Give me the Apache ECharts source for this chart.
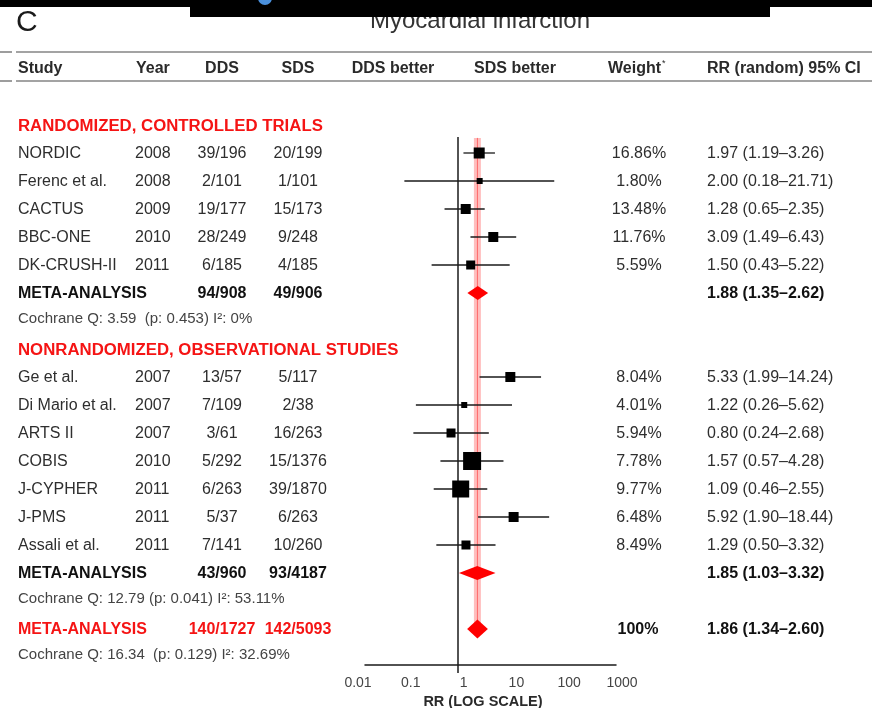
<!DOCTYPE html>
<html>
<head>
<meta charset="utf-8">
<script src="https://cdn.jsdelivr.net/npm/echarts@6/dist/echarts.min.js"></script>
<style>
  html, body { margin: 0; padding: 0; background: #fff; }
  #chart { width: 872px; height: 708px; }
</style>
</head>
<body>
<div id="chart"></div>
<script>
// ---- Study-level data: myocardial infarction, DDS vs SDS ----
const studies   = ['NORDIC', 'Ferenc et al.', 'CACTUS', 'BBC-ONE', 'DK-CRUSH-II',
                   'Ge et al.', 'Di Mario et al.', 'ARTS II', 'COBIS', 'J-CYPHER', 'J-PMS', 'Assali et al.'];
const years     = [2008, 2008, 2009, 2010, 2011, 2007, 2007, 2007, 2010, 2011, 2011, 2011];
const ddsEvents = ['39/196', '2/101', '19/177', '28/249', '6/185',
                   '13/57', '7/109', '3/61', '5/292', '6/263', '5/37', '7/141'];
const sdsEvents = ['20/199', '1/101', '15/173', '9/248', '4/185',
                   '5/117', '2/38', '16/263', '15/1376', '39/1870', '6/263', '10/260'];
const weights   = [16.86, 1.80, 13.48, 11.76, 5.59, 8.04, 4.01, 5.94, 7.78, 9.77, 6.48, 8.49];
const rr        = [1.97, 2.00, 1.28, 3.09, 1.50, 5.33, 1.22, 0.80, 1.57, 1.09, 5.92, 1.29];
const rrLow     = [1.19, 0.18, 0.65, 1.49, 0.43, 1.99, 0.26, 0.24, 0.57, 0.46, 1.90, 0.50];
const rrHigh    = [3.26, 21.71, 2.35, 6.43, 5.22, 14.24, 5.62, 2.68, 4.28, 2.55, 18.44, 3.32];

// ---- Pooled estimates (RCT subgroup, observational subgroup, overall) ----
const pooledDds    = ['94/908', '43/960', '140/1727'];
const pooledSds    = ['49/906', '93/4187', '142/5093'];
const pooledRR     = [1.88, 1.85, 1.86];
const pooledLow    = [1.35, 1.03, 1.34];
const pooledHigh   = [2.62, 3.32, 2.60];
const pooledWeight = ['', '', '100%'];
const heterogeneity = ['Cochrane Q: 3.59  (p: 0.453) I\u00b2: 0%',
                       'Cochrane Q: 12.79 (p: 0.041) I\u00b2: 53.11%',
                       'Cochrane Q: 16.34  (p: 0.129) I\u00b2: 32.69%'];

const sectionTitles = ['RANDOMIZED, CONTROLLED TRIALS', 'NONRANDOMIZED, OBSERVATIONAL STUDIES'];
const headers = ['Study', 'Year', 'DDS', 'SDS', 'DDS better', 'SDS better', 'Weight', 'RR (random) 95% CI'];
const tickLabels = ['0.01', '0.1', '1', '10', '100', '1000'];

// ---- Layout: row slots (row units below the first section heading) ----
const sectionRows = [0, 8];
const studyRows   = [1, 2, 3, 4, 5, 9, 10, 11, 12, 13, 14, 15];
const pooledRows  = [6, 16, 18];
const hetRows     = [6.9, 16.9, 18.9];
const boxSizes    = [11, 6, 10, 10, 9, 10, 6, 9, 18, 17, 10, 9];
const diamondHeights = [14, 14, 19];

const FONT = '"Liberation Sans", Arial, Helvetica, sans-serif';
const TEXT = '#2e2e2e';
const RED = '#f51414';
const ROW_MAX = 19.2857;
const overall = pooledRR[2];

const chart = echarts.init(document.getElementById('chart'), null, { renderer: 'canvas' });

const fmt2 = v => v.toFixed(2);
const ciText = (e, l, h) => fmt2(e) + ' (' + fmt2(l) + '\u2013' + fmt2(h) + ')';

chart.setOption({
  animation: false,
  backgroundColor: '#fff',
  grid: [
    { left: 365, width: 251, top: 125, bottom: 43, outerBoundsMode: 'none' },
    { left: 358, width: 264, top: 125, bottom: 43, outerBoundsMode: 'none' }
  ],
  xAxis: [
    { // plotting scale for the estimates
      type: 'log', logBase: 10, gridIndex: 0, min: 0.0511, max: 156.4, position: 'bottom',
      axisLine: { show: true, onZero: false, lineStyle: { color: '#1a1a1a', width: 1.5 } },
      axisTick: { show: false }, axisLabel: { show: false }, splitLine: { show: false }
    },
    { // printed decade labels
      type: 'log', logBase: 10, gridIndex: 1, min: 0.01, max: 1000, position: 'bottom',
      axisLine: { show: false, onZero: false }, axisTick: { show: false }, splitLine: { show: false },
      axisLabel: {
        show: true, margin: 11, color: '#444', fontSize: 14, fontFamily: FONT,
        formatter: v => tickLabels[Math.round(Math.log10(v)) + 2]
      },
      name: 'RR (LOG SCALE)', nameLocation: 'middle', nameGap: 27,
      nameTextStyle: { color: '#2a2a2a', fontSize: 14.5, fontWeight: 'bold', fontFamily: FONT, padding: [0, 14, 0, 0] }
    }
  ],
  yAxis: [
    { type: 'value', gridIndex: 0, inverse: true, min: 0, max: ROW_MAX, show: false },
    { type: 'value', gridIndex: 1, inverse: true, min: 0, max: ROW_MAX, show: false }
  ],
  series: [
    { // line of no effect
      type: 'line', xAxisIndex: 0, yAxisIndex: 0, clip: false, silent: true, z: 1,
      symbol: 'none', data: [[1, 0.43], [1, 19.57]],
      lineStyle: { color: '#1a1a1a', width: 1.5 }
    },
    { // overall pooled estimate band
      type: 'line', xAxisIndex: 0, yAxisIndex: 0, clip: false, silent: true, z: 2,
      symbol: 'none', data: [[overall, 0.46], [overall, pooledRows[2]]],
      lineStyle: { color: 'rgba(255,40,40,0.3)', width: 7 }
    },
    {
      type: 'line', xAxisIndex: 0, yAxisIndex: 0, clip: false, silent: true, z: 2,
      symbol: 'none', data: [[overall, 0.46], [overall, pooledRows[2]]],
      lineStyle: { color: 'rgba(255,0,0,0.45)', width: 1 }
    },
    { // individual studies: CI whisker + weighted box
      type: 'custom', xAxisIndex: 0, yAxisIndex: 0, z: 3, silent: true,
      data: studies.map((s, i) => [rr[i], rrLow[i], rrHigh[i], studyRows[i]]),
      encode: { x: [0, 1, 2], y: 3 },
      renderItem(params, api) {
        const row = api.value(3);
        const mid = api.coord([api.value(0), row]);
        const lo = api.coord([api.value(1), row]);
        const hi = api.coord([api.value(2), row]);
        const s = boxSizes[params.dataIndex];
        return {
          type: 'group',
          children: [
            { type: 'line', shape: { x1: lo[0], y1: lo[1], x2: hi[0], y2: hi[1] },
              style: { stroke: '#1a1a1a', lineWidth: 1.3 } },
            { type: 'rect', shape: { x: mid[0] - s / 2, y: mid[1] - s / 2, width: s, height: s },
              style: { fill: '#000' } }
          ]
        };
      }
    },
    { // pooled diamonds
      type: 'custom', xAxisIndex: 0, yAxisIndex: 0, z: 4, silent: true,
      data: pooledRR.map((v, i) => [v, pooledLow[i], pooledHigh[i], pooledRows[i]]),
      encode: { x: [0, 1, 2], y: 3 },
      renderItem(params, api) {
        const row = api.value(3);
        const mid = api.coord([api.value(0), row]);
        const lo = api.coord([api.value(1), row]);
        const hi = api.coord([api.value(2), row]);
        const h = diamondHeights[params.dataIndex] / 2;
        return {
          type: 'polygon',
          shape: { points: [[lo[0], mid[1]], [mid[0], mid[1] - h], [hi[0], mid[1]], [mid[0], mid[1] + h]] },
          style: { fill: '#ff0000' }
        };
      }
    }
  ]
});

// ---- Table text, aligned to the plot rows ----
const rowY = v => chart.convertToPixel({ yAxisIndex: 0 }, v) + 1;
const txt = (text, x, y, opt) => ({
  type: 'text', x: x, y: y, silent: true, z: 10,
  style: Object.assign({
    text: text, fill: TEXT, fontSize: 16, fontFamily: FONT,
    align: 'left', verticalAlign: 'middle'
  }, opt || {})
});

const col = { study: 18, year: 135, dds: 222, sds: 298, weight: 639, ci: 707 };
const g = [];

// title area
g.push(txt('Myocardial infarction', 480, 21, { fontSize: 24, fill: '#333', align: 'center' }));
g.push({ type: 'rect', z: 20, silent: true, shape: { x: 0, y: 0, width: 872, height: 7 }, style: { fill: '#000' } });
g.push({ type: 'rect', z: 20, silent: true, shape: { x: 190, y: 0, width: 580, height: 17 }, style: { fill: '#000' } });
g.push({ type: 'circle', z: 21, silent: true, shape: { cx: 265, cy: -2, r: 7 }, style: { fill: '#4a90dc' } });
g.push(txt('C', 16, 23, { fontSize: 30, fill: '#1a1a1a' }));

// header rules
[52, 81].forEach(y => {
  g.push({ type: 'line', silent: true, shape: { x1: 0, y1: y, x2: 12, y2: y }, style: { stroke: '#858585', lineWidth: 1.6 } });
  g.push({ type: 'line', silent: true, shape: { x1: 16, y1: y, x2: 872, y2: y }, style: { stroke: '#858585', lineWidth: 1.6 } });
});

// column headers
const hb = { fontWeight: 'bold', fill: '#2a2a2a' };
const HY = 69;
g.push(txt(headers[0], col.study, HY, hb));
g.push(txt(headers[1], 136, HY, hb));
g.push(txt(headers[2], col.dds, HY, Object.assign({ align: 'center' }, hb)));
g.push(txt(headers[3], col.sds, HY, Object.assign({ align: 'center' }, hb)));
g.push(txt(headers[4], 393, HY, Object.assign({ align: 'center' }, hb)));
g.push(txt(headers[5], 515, HY, Object.assign({ align: 'center' }, hb)));
g.push(txt(headers[6], 661, HY, Object.assign({ align: 'right' }, hb)));
g.push(txt('*', 662, HY - 5, { fontSize: 9, fill: '#2a2a2a' }));
g.push(txt(headers[7], col.ci, HY, hb));

// section headings
sectionTitles.forEach((t, i) => {
  g.push(txt(t, col.study, rowY(sectionRows[i]), { fontWeight: 'bold', fill: RED, fontSize: 16.8 }));
});

// study rows
studies.forEach((s, i) => {
  const y = rowY(studyRows[i]);
  g.push(txt(s, col.study, y));
  g.push(txt(String(years[i]), col.year, y));
  g.push(txt(ddsEvents[i], col.dds, y, { align: 'center' }));
  g.push(txt(sdsEvents[i], col.sds, y, { align: 'center' }));
  g.push(txt(fmt2(weights[i]) + '%', col.weight, y, { align: 'center' }));
  g.push(txt(ciText(rr[i], rrLow[i], rrHigh[i]), col.ci, y));
});

// pooled rows and heterogeneity
pooledRR.forEach((v, i) => {
  const y = rowY(pooledRows[i]);
  const isOverall = i === 2;
  const c = isOverall ? RED : '#111';
  g.push(txt('META-ANALYSIS', col.study, y, { fontWeight: 'bold', fill: c, fontSize: 16 }));
  g.push(txt(pooledDds[i], col.dds, y, { fontWeight: 'bold', fill: c, align: 'center' }));
  g.push(txt(pooledSds[i], col.sds, y, { fontWeight: 'bold', fill: c, align: 'center' }));
  if (pooledWeight[i]) g.push(txt(pooledWeight[i], 638, y, { fontWeight: 'bold', fill: '#111', align: 'center' }));
  g.push(txt(ciText(v, pooledLow[i], pooledHigh[i]), col.ci, y, { fontWeight: 'bold', fill: '#111' }));
  g.push(txt(heterogeneity[i], col.study, rowY(hetRows[i]), { fontSize: 15, fill: '#444' }));
});

chart.setOption({ graphic: g });
</script>
</body>
</html>
